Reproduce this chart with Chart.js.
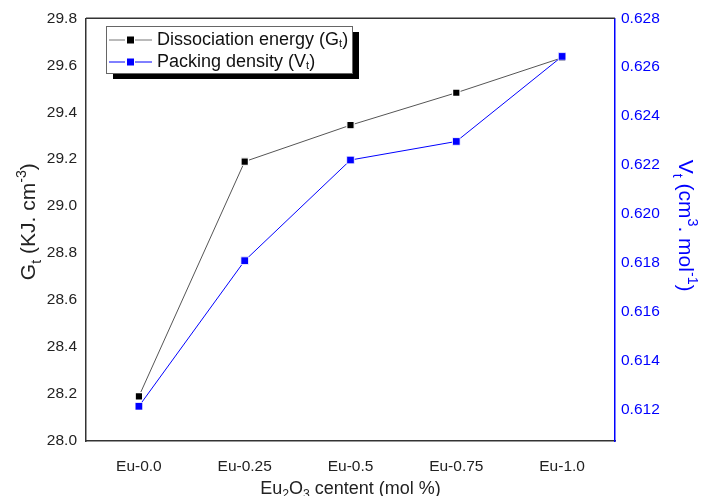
<!DOCTYPE html>
<html>
<head>
<meta charset="utf-8">
<script src="https://cdn.jsdelivr.net/npm/chart.js@4"></script>
<style>
html,body{margin:0;padding:0;background:#fff;}
#wrap{width:708px;height:496px;position:relative;}
</style>
</head>
<body>
<div id="wrap"><canvas id="c" width="708" height="496"></canvas></div>
<script>
const categories = ['Eu-0.0', 'Eu-0.25', 'Eu-0.5', 'Eu-0.75', 'Eu-1.0'];
const dissociationEnergy = [28.19, 29.19, 29.345, 29.483, 29.632];
const packingDensity = [0.61212, 0.61808, 0.6222, 0.62296, 0.62644];
const leftTicks = [28.0, 28.2, 28.4, 28.6, 28.8, 29.0, 29.2, 29.4, 29.6, 29.8];
const rightTicks = [0.612, 0.614, 0.616, 0.618, 0.620, 0.622, 0.624, 0.626, 0.628];

const FONT = "'Liberation Sans', Arial, sans-serif";
const BLUE = '#0000ff';

function drawRich(ctx, segs, x, y, size, color, subK) {
  const sk = subK || 0.30;
  const parts = segs.map(([t, k]) => {
    const s = k === 'n' ? size : size * 0.68;
    ctx.font = s + 'px ' + FONT;
    return {t, k, s, w: ctx.measureText(t).width};
  });
  const total = parts.reduce((a, p) => a + p.w, 0);
  let cx = x - total / 2;
  ctx.fillStyle = color;
  ctx.textBaseline = 'alphabetic';
  ctx.textAlign = 'left';
  for (const p of parts) {
    ctx.font = p.s + 'px ' + FONT;
    let dy = 0;
    if (p.k === 'sub') dy = size * sk;
    if (p.k === 'sup') dy = -size * 0.42;
    ctx.fillText(p.t, cx, y + dy);
    cx += p.w;
  }
}

function drawLeft(ctx, segs, x, y, size, color) {
  const parts = segs.map(([t, k]) => {
    const s = k === 'n' ? size : size * 0.62;
    ctx.font = s + 'px ' + FONT;
    return {t, k, s, w: ctx.measureText(t).width};
  });
  let cx = x;
  ctx.fillStyle = color;
  ctx.textBaseline = 'middle';
  ctx.textAlign = 'left';
  for (const p of parts) {
    ctx.font = p.s + 'px ' + FONT;
    let dy = 0;
    if (p.k === 'sub') dy = size * 0.2;
    ctx.fillText(p.t, cx, y + dy);
    cx += p.w;
  }
}

const decor = {
  id: 'decor',
  afterDraw(chart) {
    const ctx = chart.ctx;
    const a = chart.chartArea;
    ctx.save();
    ctx.strokeStyle = '#333';
    ctx.lineWidth = 1.5;
    ctx.beginPath();
    ctx.moveTo(a.left, a.top);
    ctx.lineTo(a.right, a.top);
    ctx.stroke();

    ctx.save();
    ctx.translate(20, (a.top + a.bottom) / 2 - 8);
    ctx.rotate(-Math.PI / 2);
    drawRich(ctx, [['G','n'],['t','sub'],[' (KJ. cm','n'],['-3','sup'],[')','n']], 0, 15, 21, '#222');
    ctx.restore();

    ctx.save();
    ctx.translate(694, (a.top + a.bottom) / 2 - 4);
    ctx.rotate(Math.PI / 2);
    drawRich(ctx, [['V','n'],['t','sub'],[' (cm','n'],['3','sup'],['. mol','n'],['-1','sup'],[')','n']], 0, 15, 21, BLUE);
    ctx.restore();

    drawRich(ctx, [['Eu','n'],['2','sub'],['O','n'],['3','sub'],[' centent (mol %)','n']], (a.left + a.right) / 2, 494, 18, '#222', 0.2);

    const lx = 106, ly = 26, lw = 246, lh = 47;
    ctx.fillStyle = '#000';
    ctx.fillRect(lx + 7, ly + 6, lw, lh);
    ctx.fillStyle = '#fff';
    ctx.fillRect(lx, ly, lw, lh);
    ctx.strokeStyle = '#666';
    ctx.lineWidth = 1;
    ctx.strokeRect(lx + 0.5, ly + 0.5, lw, lh);
    const rows = [
      {y: 40, line: '#777', mark: '#000', segs: [['Dissociation energy (G','n'],['t','sub'],[')','n']]},
      {y: 62, line: BLUE, mark: BLUE, segs: [['Packing density (V','n'],['t','sub'],[')','n']]}
    ];
    for (const r of rows) {
      ctx.strokeStyle = r.line;
      ctx.lineWidth = 1;
      ctx.beginPath();
      ctx.moveTo(109, r.y); ctx.lineTo(125, r.y);
      ctx.moveTo(135, r.y); ctx.lineTo(152, r.y);
      ctx.stroke();
      ctx.fillStyle = r.mark;
      ctx.fillRect(127, r.y - 3.5, 7, 7);
      drawLeft(ctx, r.segs, 157, r.y, 18, '#111');
    }
    ctx.restore();
  }
};

new Chart(document.getElementById('c'), {
  type: 'line',
  data: {
    labels: categories,
    datasets: [
      {
        label: 'Dissociation energy (Gt)',
        data: dissociationEnergy,
        yAxisID: 'y',
        order: 1,
        borderColor: '#555',
        borderWidth: 1,
        backgroundColor: '#000',
        pointStyle: 'rect',
        pointRadius: 5.2,
        pointBackgroundColor: '#000',
        pointBorderColor: '#fff',
        pointBorderWidth: 1.2,
        tension: 0
      },
      {
        label: 'Packing density (Vt)',
        data: packingDensity,
        yAxisID: 'y1',
        order: 0,
        borderColor: BLUE,
        borderWidth: 1,
        backgroundColor: BLUE,
        pointStyle: 'rect',
        pointRadius: 5.4,
        pointBackgroundColor: BLUE,
        pointBorderColor: '#fff',
        pointBorderWidth: 0.8,
        tension: 0
      }
    ]
  },
  options: {
    responsive: false,
    animation: false,
    layout: {padding: {top: 10, left: 0, right: 0, bottom: 0}},
    plugins: {legend: {display: false}, tooltip: {enabled: false}},
    scales: {
      x: {
        type: 'category',
        offset: true,
        grid: {display: false, drawTicks: false},
        border: {display: true, color: '#333', width: 1.5},
        ticks: {color: '#222', font: {family: FONT, size: 15.5}, padding: 16, maxRotation: 0},
        afterFit(s) { s.height = 55; }
      },
      y: {
        position: 'left',
        min: 28.0,
        max: 29.8,
        grid: {display: false, drawTicks: false},
        border: {display: true, color: '#333', width: 1.5},
        afterBuildTicks(s) { s.ticks = leftTicks.map(v => ({value: v})); },
        ticks: {color: '#222', font: {family: FONT, size: 15.5}, padding: 9, callback: v => Number(v).toFixed(1)},
        afterFit(s) { s.width = 86; }
      },
      y1: {
        position: 'right',
        min: 0.6107,
        max: 0.628,
        grid: {display: false, drawTicks: false},
        border: {display: true, color: BLUE, width: 1.5},
        afterBuildTicks(s) { s.ticks = rightTicks.map(v => ({value: v})); },
        ticks: {color: BLUE, font: {family: FONT, size: 15.5}, padding: 6, callback: v => Number(v).toFixed(3)},
        afterFit(s) { s.width = 93; }
      }
    }
  },
  plugins: [decor]
});
</script>
</body>
</html>
